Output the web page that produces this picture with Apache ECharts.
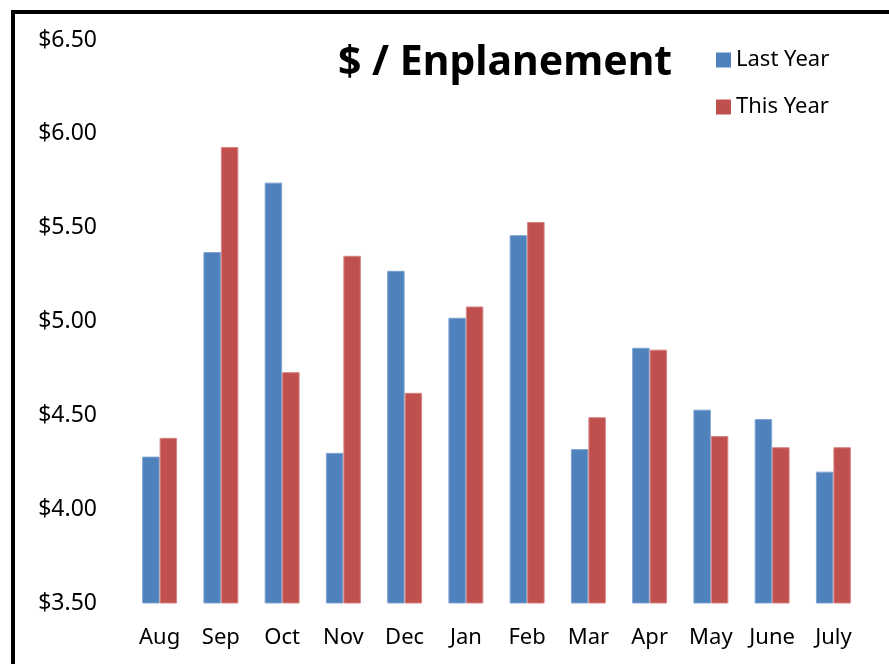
<!DOCTYPE html>
<html>
<head>
<meta charset="utf-8">
<title>$ / Enplanement</title>
<script src="https://cdn.jsdelivr.net/npm/echarts@6/dist/echarts.min.js"></script>
<style>
    html, body { margin: 0; padding: 0; background: #fff; }
    #chart { width: 889px; height: 664px; }
</style>
</head>
<body>
<div id="chart"></div>
<script>
// months shown along the bottom
const months = [ 'Aug', 'Sep', 'Oct', 'Nov', 'Dec', 'Jan', 'Feb', 'Mar', 'Apr', 'May', 'June', 'July' ];
// dollars per enplanement
const lastYear = [ 4.28, 5.37, 5.74, 4.30, 5.27, 5.02, 5.46, 4.32, 4.86, 4.53, 4.48, 4.20 ];
const thisYear = [ 4.38, 5.93, 4.73, 5.35, 4.62, 5.08, 5.53, 4.49, 4.85, 4.39, 4.33, 4.33 ];

const font = 'Noto Sans';

const chartContext = {
    draw() {
        const c = echarts.init( document.getElementById( 'chart' ) );
        const bar = ( name, data, color, edge ) => ( {
            name,
            type: 'bar',
            data,
            barGap: '0%',
            barCategoryGap: '43%',
            itemStyle: { color, borderColor: edge, borderWidth: 1 }
        } );

        c.setOption( {
            backgroundColor: '#fff',
            animation: false,
            title: {
                text: '$ / Enplanement',
                left: 333, top: 38,
                textStyle: { fontFamily: font, fontWeight: 'bold', fontSize: 41, color: '#000' }
            },
            legend: {
                orient: 'vertical',
                left: 711, top: 44,
                itemWidth: 15, itemHeight: 15,
                itemGap: 25,
                icon: 'rect',
                itemStyle: { borderWidth: 0 },
                textStyle: { fontFamily: font, fontSize: 22, color: '#000' },
                data: [ 'Last Year', 'This Year' ]
            },
            grid: { left: 129, right: 25, top: 40, bottom: 61 },
            xAxis: {
                type: 'category',
                data: months,
                axisLine: { show: false },
                axisTick: { show: false },
                axisLabel: { fontFamily: font, fontSize: 22, color: '#000', margin: 24 }
            },
            yAxis: {
                type: 'value',
                min: 3.5, max: 6.5, interval: 0.5,
                splitLine: { show: false },
                axisLine: { show: false },
                axisTick: { show: false },
                axisLabel: {
                    fontFamily: font, fontSize: 23, color: '#000', margin: 32,
                    formatter: v => '$' + v.toFixed( 2 )
                }
            },
            graphic: [ {
                type: 'rect',
                shape: { x: 13, y: 12, width: 900, height: 700 },
                style: { fill: 'none', stroke: '#000', lineWidth: 4 },
                silent: true
            } ],
            series: [
                bar( 'Last Year', lastYear, '#4F81BD', '#7FA3D0' ),
                bar( 'This Year', thisYear, '#C0504D', '#D58482' )
            ]
        } );
    }
};

!(function () {
    document.addEventListener( "DOMContentLoaded", function () {
        Object.values( chartContext ).forEach( f => f() );
    } );
})();
</script>
</body>
</html>
